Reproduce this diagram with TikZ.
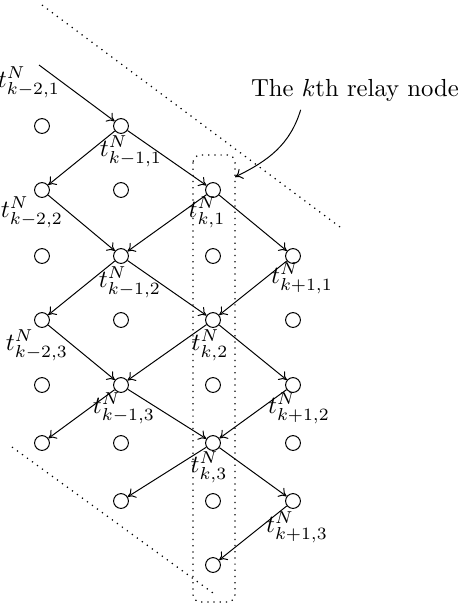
\documentclass[tikz,border=0pt]{standalone}
\usetikzlibrary{arrows.meta, positioning}

\begin{document}
\begin{tikzpicture}[
  x=0.405pt, y=-0.405pt, % une unité = un pixel de la figure
  site/.style={circle, draw, minimum size=6pt, inner sep=0pt},
  lbl/.style={inner sep=0pt},
  arr/.style={-{To[length=3pt, width=4.4pt]}},
  borne/.style={dotted, line width=0.5pt}
]
\useasboundingbox (0,0) rectangle (461,608);

% Grille des noeuds (colonnes a=k-2, b=k-1, c=k, d=k+1)
\node[site] (a1) at (42,126) {};
\node[site] (b1) at (121,126) {};
\node[site] (a2) at (42,190) {};
\node[site] (b2) at (121,190) {};
\node[site] (c2) at (213,190) {};
\node[site] (a3) at (42,256) {};
\node[site] (b3) at (121,256) {};
\node[site] (c3) at (213,256) {};
\node[site] (d3) at (293,256) {};
\node[site] (a4) at (42,320) {};
\node[site] (b4) at (121,320) {};
\node[site] (c4) at (213,320) {};
\node[site] (d4) at (293,320) {};
\node[site] (a5) at (42,385) {};
\node[site] (b5) at (121,385) {};
\node[site] (c5) at (213,385) {};
\node[site] (d5) at (293,385) {};
\node[site] (a6) at (42,443) {};
\node[site] (b6) at (121,443) {};
\node[site] (c6) at (213,443) {};
\node[site] (d6) at (293,443) {};
\node[site] (b7) at (121,501) {};
\node[site] (c7) at (213,501) {};
\node[site] (d7) at (293,501) {};
\node[site] (c8) at (213,565) {};

% Instants de transmission
\node[lbl] (t21) at (29,82) {$t^N_{k-2,1}$};
\node[lbl] (t11) at (131,151) {$t^N_{k-1,1}$};
\node[lbl] (t22) at (32,212) {$t^N_{k-2,2}$};
\node[lbl] (t01) at (207,212) {$t^N_{k,1}$};
\node[lbl] (t12) at (130,282) {$t^N_{k-1,2}$};
\node[lbl] (tp1) at (302,278) {$t^N_{k+1,1}$};
\node[lbl] (t23) at (37,345) {$t^N_{k-2,3}$};
\node[lbl] (t02) at (210,345) {$t^N_{k,2}$};
\node[lbl] (t13) at (124,408) {$t^N_{k-1,3}$};
\node[lbl] (tp2) at (299,408) {$t^N_{k+1,2}$};
\node[lbl] (t03) at (209,467) {$t^N_{k,3}$};
\node[lbl] (tp3) at (297,527) {$t^N_{k+1,3}$};

% Flèches de relais
\coordinate (src) at (39,65);
\draw[arr] (src) -- (b1);
\draw[arr] (b1) -- (a2);
\draw[arr] (b1) -- (c2);
\draw[arr] (a2) -- (b3);
\draw[arr] (c2) -- (b3);
\draw[arr] (c2) -- (d3);
\draw[arr] (b3) -- (a4);
\draw[arr] (b3) -- (c4);
\draw[arr] (d3) -- (c4);
\draw[arr] (a4) -- (b5);
\draw[arr] (c4) -- (b5);
\draw[arr] (c4) -- (d5);
\draw[arr] (b5) -- (a6);
\draw[arr] (b5) -- (c6);
\draw[arr] (d5) -- (c6);
\draw[arr] (c6) -- (b7);
\draw[arr] (c6) -- (d7);
\draw[arr] (d7) -- (c8);

% Bornes en pointillés
\draw[borne] (42,5) -- (340,227);
\draw[borne] (12,447) -- (213,593);
\draw[borne, rounded corners=3pt] (193,155) rectangle (235,602);

% Annotation du kème relais
\node (relaylbl) at (355,90) {The $k$th relay node};
\coordinate (lblfoot) at ([xshift=-22pt]relaylbl.south);
\coordinate (boxpt) at (235,177);
\draw[arr] (lblfoot) to[out=-107, in=26] (boxpt);

\end{tikzpicture}
\end{document}
